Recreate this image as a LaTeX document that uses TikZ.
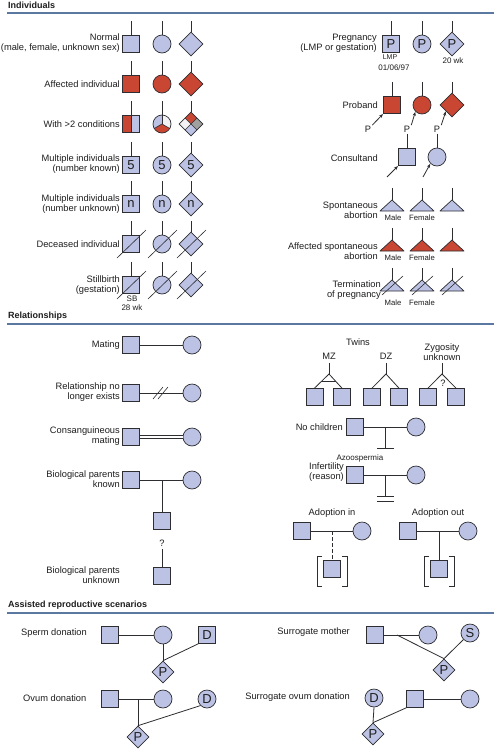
\documentclass[tikz,border=0pt]{standalone}
\usepackage{fontspec}
\setmainfont{Liberation Sans}
\usetikzlibrary{shapes.geometric,arrows.meta,calc}
\definecolor{pblue}{RGB}{188,194,228}
\definecolor{pred}{RGB}{200,70,50}
\definecolor{lc}{RGB}{45,45,50}
\definecolor{rulec}{RGB}{90,120,160}
\definecolor{tc}{RGB}{30,30,30}
\definecolor{pgrey}{RGB}{160,160,160}
\definecolor{pwhite}{RGB}{242,242,245}
\newcommand\pstem[1]{\draw[ln] (#1.north) -- ([yshift=23pt]#1.center);}
\newcommand\ptri[4]{\draw[tri,fill=#3] (#1-12,-#2-11) -- (#1,-#2) coordinate (#4) -- (#1+12,-#2-11) -- cycle; \draw[ln] (#4) -- ++(0,12);}
\begin{document}
\begin{tikzpicture}[x=1pt,y=1pt,
 shp/.style={draw=lc, line width=0.7pt, fill=pblue, inner sep=0pt, text=tc, font=\fontsize{13}{13}\selectfont},
 sq/.style={shp, rectangle, minimum size=17pt},
 ci/.style={shp, circle, minimum size=18pt},
 di/.style={shp, diamond, minimum size=24pt},
 sdi/.style={shp, diamond, minimum size=22pt},
 aff/.style={fill=pred},
 ln/.style={draw=lc, line width=0.8pt},
 sl/.style={draw=lc, line width=0.6pt},
 arr/.style={ln, shorten >=0.3pt, -{Stealth[length=4pt,width=3.2pt]}},
 lbl/.style={font=\fontsize{9.3}{10}\selectfont, text=tc, align=right, anchor=east, inner sep=0pt},
 llbl/.style={font=\fontsize{9.3}{10}\selectfont, text=tc, anchor=west, inner sep=0pt},
 clbl/.style={font=\fontsize{9.3}{10}\selectfont, text=tc, align=center, inner sep=0pt},
 sm/.style={font=\fontsize{7.7}{8.5}\selectfont, text=tc, align=center, inner sep=0pt},
 sm8/.style={font=\fontsize{8}{9}\selectfont, text=tc, align=center, inner sep=0pt},
 hdr/.style={font=\bfseries\fontsize{9}{10}\selectfont, text=tc, anchor=west, inner sep=0pt},
 rule/.style={draw=rulec, line width=1.1pt},
 tri/.style={draw=lc, line width=0.7pt, fill=pblue, line join=round}
]
\useasboundingbox[fill=white] (0,0) rectangle (494,-750);

% ---------------- Individuals ----------------
\node[hdr] (h1) at (8,-5.5) {Individuals};
\coordinate (r1a) at (7,-13); \coordinate (r1b) at (494,-13);
\draw[rule] (r1a) -- (r1b);

% Normal
\node[lbl] (t1) at (120,-43) {Normal\\(male, female, unknown sex)};
\node[sq] (a1) at (131,-44) {}; \node[ci] (a2) at (162,-44) {}; \node[di] (a3) at (191,-44) {};
\pstem{a1}\pstem{a2}\pstem{a3}

% Affected
\node[lbl] (t2) at (120,-84) {Affected individual};
\node[sq,aff] (b1) at (131,-84) {}; \node[ci,aff] (b2) at (162,-84) {}; \node[di,aff] (b3) at (191,-84) {};
\pstem{b1}\pstem{b2}\pstem{b3}

% With >2 conditions
\node[lbl] (t3) at (120,-124) {With >2 conditions};
\fill[pred] (122.5,-115.5) rectangle (131,-132.5);
\fill[pblue] (131,-115.5) rectangle (139.5,-132.5);
\node[sq,fill=none] (c1) at (131,-124) {};
\draw[sl] (c1.north) -- (c1.south);
\fill[pblue] (162,-124) -- ++(90:9pt) arc[start angle=90,end angle=210,radius=9pt] -- cycle;
\fill[pwhite] (162,-124) -- ++(-30:9pt) arc[start angle=-30,end angle=90,radius=9pt] -- cycle;
\fill[pred] (162,-124) -- ++(210:9pt) arc[start angle=210,end angle=330,radius=9pt] -- cycle;
\node[ci,fill=none] (c2) at (162,-124) {};
\draw[sl] (c2.center) -- (c2.north); \draw[sl] (c2.center) -- (c2.210); \draw[sl] (c2.center) -- (c2.330);
\fill[pred] (191,-112) -- (197,-118) -- (191,-124) -- (185,-118) -- cycle;
\fill[pgrey] (197,-118) -- (203,-124) -- (197,-130) -- (191,-124) -- cycle;
\fill[pblue] (191,-124) -- (197,-130) -- (191,-136) -- (185,-130) -- cycle;
\fill[pwhite] (185,-118) -- (191,-124) -- (185,-130) -- (179,-124) -- cycle;
\node[di,fill=none] (c3) at (191,-124) {};
\draw[sl] (185,-118) -- (197,-130); \draw[sl] (197,-118) -- (185,-130);
\pstem{c1}\pstem{c2}\pstem{c3}

% Multiple known
\node[lbl] (t4) at (120,-164.5) {Multiple individuals\\(number known)};
\node[sq] (d1) at (131,-165) {5}; \node[ci] (d2) at (162,-165) {5}; \node[di] (d3) at (191,-165) {5};
\pstem{d1}\pstem{d2}\pstem{d3}

% Multiple unknown
\node[lbl] (t5) at (120,-204) {Multiple individuals\\(number unknown)};
\node[sq] (e1) at (131,-204) {n}; \node[ci] (e2) at (162,-204) {n}; \node[di] (e3) at (191,-204) {n};
\pstem{e1}\pstem{e2}\pstem{e3}

% Deceased
\node[lbl] (t6) at (120,-244) {Deceased individual};
\node[sq] (f1) at (131,-244) {}; \node[ci] (f2) at (162,-244) {}; \node[di] (f3) at (191,-244) {};
\pstem{f1}\pstem{f2}\pstem{f3}
\foreach \n in {f1,f2,f3} {\draw[sl] ([shift={(-14,-14)}]\n.center) -- ([shift={(15,14)}]\n.center);}

% Stillbirth
\node[lbl] (t7) at (120,-285) {Stillbirth\\(gestation)};
\node[sq] (g1) at (131,-285) {}; \node[ci] (g2) at (162,-285) {}; \node[di] (g3) at (191,-285) {};
\pstem{g1}\pstem{g2}\pstem{g3}
\foreach \n in {g1,g2,g3} {\draw[sl] ([shift={(-14,-14)}]\n.center) -- ([shift={(15,14)}]\n.center);}
\node[sm8] (sb) at (132,-303.5) {SB\\28 wk};

% Pregnancy
\node[lbl] (t8) at (377,-43) {Pregnancy\\(LMP or gestation)};
\node[sq] (p1) at (391,-44) {P}; \node[ci] (p2) at (422,-44) {P}; \node[di] (p3) at (452,-44) {P};
\pstem{p1}\pstem{p2}\pstem{p3}
\node[font=\fontsize{7}{7}\selectfont, text=tc, inner sep=0pt] (lmp) at (390,-57.5) {LMP};
\node[sm8] (dat) at (394,-68) {01/06/97};
\node[sm8] (wk) at (453,-61) {20 wk};

% Proband
\node[lbl] (t9) at (378,-105) {Proband};
\node[sq,aff] (q1) at (392,-105) {}; \node[ci,aff] (q2) at (422,-105) {}; \node[di,aff] (q3) at (452,-105) {};
\pstem{q1}\pstem{q2}\pstem{q3}
\node[clbl] (pa1) at (368,-129) {P}; \node[clbl] (pa2) at (407,-129) {P}; \node[clbl] (pa3) at (437,-129) {P};
\draw[arr] ([shift={(1,0.5)}]pa1.north east) -- (q1.south west);
\draw[arr] ([shift={(1,0.5)}]pa2.north east) -- (q2.south west);
\draw[arr] ([shift={(1,0.5)}]pa3.north east) -- (q3.south west);

% Consultand
\node[lbl] (t10) at (378,-158) {Consultand};
\node[sq] (k1) at (407,-157) {}; \node[ci] (k2) at (437,-157) {};
\pstem{k1}\pstem{k2}
\coordinate (ka1) at (387,-177); \coordinate (ka2) at (423,-177);
\draw[arr] (ka1) -- (k1.south west);
\draw[arr] (ka2) -- (k2.south west);

% Spontaneous abortion
\node[lbl] (t11) at (378,-210) {Spontaneous\\abortion};
\ptri{392}{200}{pblue}{s1}\ptri{422}{200}{pblue}{s2}\ptri{452}{200}{pblue}{s3}
\node[sm] (sm1) at (393,-218) {Male}; \node[sm] (sf1) at (422,-218) {Female};

% Affected spontaneous abortion
\node[lbl] (t12) at (378,-251) {Affected spontaneous\\abortion};
\ptri{392}{240}{pred}{u1}\ptri{422}{240}{pred}{u2}\ptri{452}{240}{pred}{u3}
\node[sm] (sm2) at (393,-258) {Male}; \node[sm] (sf2) at (422,-258) {Female};

% Termination
\node[lbl] (t13) at (381,-290) {Termination\\of pregnancy};
\ptri{392}{280}{pblue}{v1}\ptri{422}{280}{pblue}{v2}\ptri{452}{280}{pblue}{v3}
\foreach \n in {v1,v2,v3} {\draw[sl] ([shift={(-10,-15)}]\n) -- ([shift={(11,4)}]\n);}
\node[sm] (sm3) at (393,-303) {Male}; \node[sm] (sf3) at (422,-303) {Female};

% ---------------- Relationships ----------------
\node[hdr] (h2) at (8,-316) {Relationships};
\coordinate (r2a) at (7,-324); \coordinate (r2b) at (494,-324);
\draw[rule] (r2a) -- (r2b);

% Mating
\node[lbl] (m0) at (120,-345) {Mating};
\node[sq] (m1) at (131,-345) {}; \node[ci] (m2) at (192,-345) {};
\draw[ln] (m1.east) -- (m2.west);

% No longer exists
\node[lbl] (nl0) at (120,-392.5) {Relationship no\\longer exists};
\node[sq] (nl1) at (131,-393) {}; \node[ci] (nl2) at (192,-393) {};
\draw[ln] (nl1.east) -- (nl2.west);
\draw[sl] (153,-399) -- (163,-387); \draw[sl] (158,-399) -- (168,-387);

% Consanguineous
\node[lbl] (cm0) at (120,-436.5) {Consanguineous\\mating};
\node[sq] (cm1) at (131,-437) {}; \node[ci] (cm2) at (192,-437) {};
\draw[draw=lc, line width=0.7pt, double=white, double distance=2.2pt] (cm1.east) -- (cm2.west);

% Biological parents known
\node[lbl] (bk0) at (120,-479) {Biological parents\\known};
\node[sq] (bk1) at (131,-480) {}; \node[ci] (bk2) at (192,-480) {};
\node[sq] (bk3) at (162,-521) {};
\draw[ln] (bk1.east) -- (bk2.west);
\coordinate (bkm) at (162,-480);
\draw[ln] (bkm) -- (bk3.north);

% Biological parents unknown
\node[lbl] (bu0) at (120,-575) {Biological parents\\unknown};
\node[clbl] (bq) at (162,-543.5) {?};
\node[sq] (bu1) at (162,-576) {};
\draw[ln] ([yshift=-2pt]bq.south) -- (bu1.north);

% Twins
\node[clbl] (tw) at (358,-342) {Twins};
\node[clbl] (mz) at (329,-356) {MZ};
\node[clbl] (dz) at (386,-356) {DZ};
\node[clbl] (zu) at (442,-352) {Zygosity\\unknown};
\coordinate (ta1) at (329,-374); \coordinate (ta2) at (386,-374); \coordinate (ta3) at (442,-374);
\node[sq] (tm1) at (314.5,-397) {}; \node[sq] (tm2) at (342,-397) {};
\node[sq] (td1) at (372,-397) {}; \node[sq] (td2) at (399,-397) {};
\node[sq] (tz1) at (428,-397) {}; \node[sq] (tz2) at (456,-397) {};
\draw[ln] (ta1) -- ++(0,11); \draw[ln] (ta2) -- ++(0,11); \draw[ln] (ta3) -- ++(0,11);
\draw[ln] (tm1.north) -- (ta1) -- (tm2.north);
\draw[ln] (td1.north) -- (ta2) -- (td2.north);
\draw[ln] (tz1.north) -- (ta3) -- (tz2.north);
\draw[ln] ($(ta1)!0.55!(tm1.north)$) -- ($(ta1)!0.55!(tm2.north)$);
\node[clbl] (zq) at (443,-383) {?};

% No children
\node[lbl] (nc0) at (343,-427) {No children};
\node[sq] (nc1) at (355,-427) {}; \node[ci] (nc2) at (416,-427) {};
\draw[ln] (nc1.east) -- (nc2.west);
\coordinate (ncm) at (385.5,-427); \coordinate (ncb) at (385.5,-448);
\draw[ln] (ncm) -- (ncb);
\draw[ln] ([xshift=-8.5pt]ncb) -- ([xshift=8.5pt]ncb);

% Infertility
\node[sm8] (az) at (360,-458) {Azoospermia};
\node[lbl] (if0) at (344,-472.5) {Infertility\\(reason)};
\node[sq] (if1) at (355,-475) {}; \node[ci] (if2) at (416,-475) {};
\draw[ln] (if1.east) -- (if2.west);
\coordinate (ifm) at (385.5,-475); \coordinate (ifb) at (385.5,-496); \coordinate (ifc) at (385.5,-501);
\draw[ln] (ifm) -- (ifb);
\draw[ln] ([xshift=-8.5pt]ifb) -- ([xshift=8.5pt]ifb);
\draw[ln] ([xshift=-8.5pt]ifc) -- ([xshift=8.5pt]ifc);

% Adoption in
\node[clbl] (ai0) at (332,-513) {Adoption in};
\node[sq] (ai1) at (302,-531) {}; \node[ci] (ai2) at (362,-531) {};
\node[sq] (ai3) at (332,-569) {};
\draw[ln] (ai1.east) -- (ai2.west);
\coordinate (aim) at (332,-531);
\draw[ln, dash pattern=on 3.5pt off 2.5pt] (aim) -- (ai3.north);
\draw[ln] (322,-556) -- (317,-556) -- (317,-586) -- (322,-586);
\draw[ln] (342,-556) -- (347,-556) -- (347,-586) -- (342,-586);

% Adoption out
\node[clbl] (ao0) at (438,-513) {Adoption out};
\node[sq] (ao1) at (408,-531) {}; \node[ci] (ao2) at (468,-531) {};
\node[sq] (ao3) at (439,-569) {};
\draw[ln] (ao1.east) -- (ao2.west);
\coordinate (aom) at (439,-531);
\draw[ln] (aom) -- (ao3.north);
\draw[ln] (429,-556) -- (424,-556) -- (424,-586) -- (429,-586);
\draw[ln] (449,-556) -- (454,-556) -- (454,-586) -- (449,-586);

% ---------------- Assisted ----------------
\node[hdr] (h3) at (8,-605) {Assisted reproductive scenarios};
\coordinate (r3a) at (7,-613); \coordinate (r3b) at (494,-613);
\draw[rule] (r3a) -- (r3b);

% Sperm donation
\node[llbl] (sd0) at (21,-633) {Sperm donation};
\node[sq] (sd1) at (110,-635) {}; \node[ci] (sd2) at (163,-635) {};
\node[sq] (sd3) at (207,-635) {D}; \node[sdi] (sd4) at (163,-672) {P};
\draw[ln] (sd1.east) -- (sd2.west);
\draw[ln] (sd2.south) -- (sd4.north);
\draw[ln] (sd3.south west) -- (sd4.north);

% Ovum donation
\node[llbl] (od0) at (23,-698) {Ovum donation};
\node[sq] (od1) at (110,-699) {}; \node[ci] (od2) at (163,-699) {};
\node[ci] (od3) at (207,-699) {D}; \node[sdi] (od4) at (138,-737) {P};
\draw[ln] (od1.east) -- (od2.west);
\coordinate (odm) at (138,-699);
\draw[ln] (odm) -- (od4.north);
\draw[ln] (od3.south west) -- (od4.north);

% Surrogate mother
\node[lbl] (su0) at (350,-632) {Surrogate mother};
\node[sq] (su1) at (375,-635) {}; \node[ci] (su2) at (428,-635) {};
\node[ci] (su3) at (470,-633) {S}; \node[sdi] (su4) at (444,-670) {P};
\draw[ln] (su1.east) -- (su2.west);
\coordinate (sum) at (397,-635);
\draw[ln] (sum) -- (su4.north);
\draw[ln] (su3.south west) -- (su4.north);

% Surrogate ovum donation
\node[lbl] (so0) at (350,-697) {Surrogate ovum donation};
\node[ci] (so1) at (374,-698) {D}; \node[sdi] (so2) at (373,-734) {P};
\node[sq] (so3) at (415,-699) {}; \node[ci] (so4) at (470,-699) {};
\draw[ln] (so1.south) -- (so2.north);
\draw[ln] (so3.south west) -- (so2.north);
\draw[ln] (so3.east) -- (so4.west);
\end{tikzpicture}
\end{document}
